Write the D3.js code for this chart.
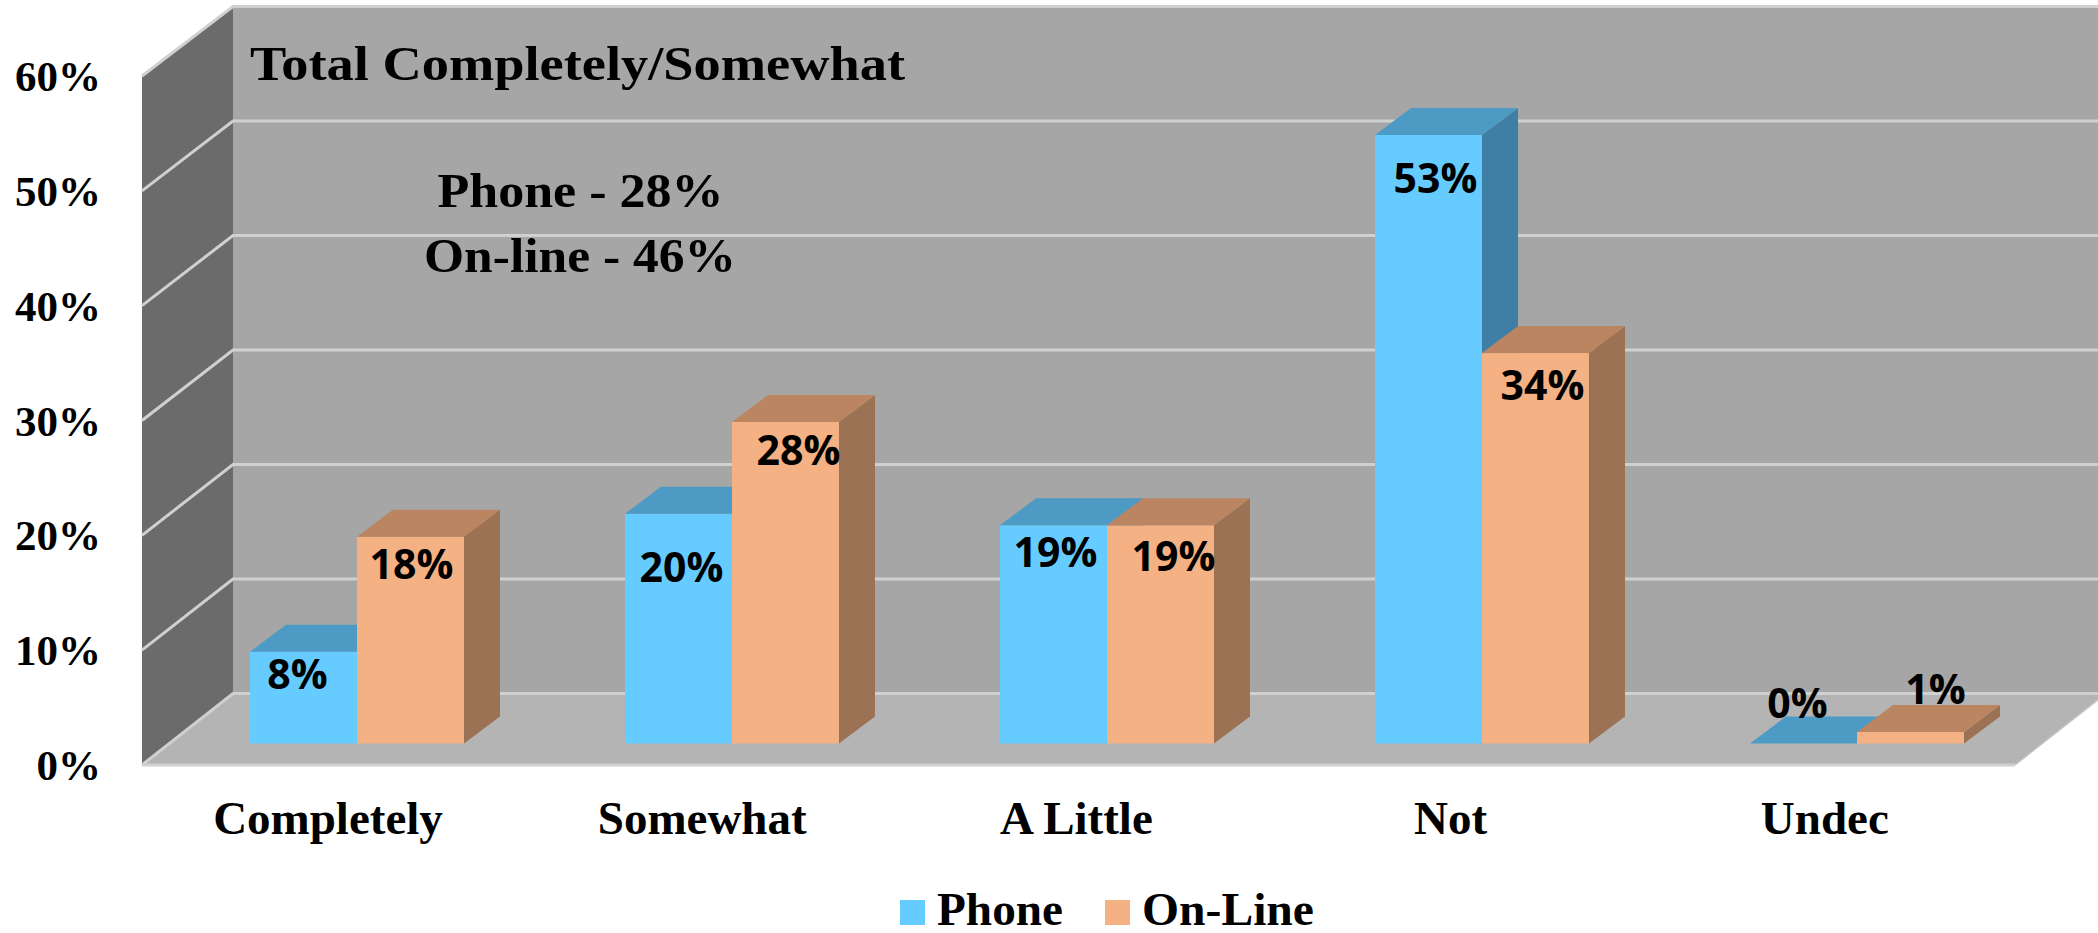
<!DOCTYPE html>
<html><head><meta charset="utf-8">
<script src="https://cdn.jsdelivr.net/npm/d3@7"></script>
<style>html,body{margin:0;padding:0;background:#fff;overflow:hidden}svg{display:block}
text{font-family:"Liberation Serif",serif;font-weight:700;fill:#000}
.dl{font-family:"Open Sans",sans-serif;font-weight:700;}</style>
</head><body><div id="c"></div>
<script>
const categories = ["Completely","Somewhat","A Little","Not","Undec"];
const seriesNames = ["Phone","On-Line"];
const phone = [8,20,19,53,0];
const online = [18,28,19,34,1];
const yTicks = [0,10,20,30,40,50,60];
const notes = ["Total Completely/Somewhat","Phone - 28%","On-line - 46%"];

const W=2098,H=933;
const svg=d3.select("#c").append("svg").attr("width",W).attr("height",H);
const y=d3.scaleLinear().domain([0,60]).range([765,76]);
const yBack=d3.scaleLinear().domain([0,60]).range([693.5,6.5]);
const x=d3.scaleBand().domain(categories).range([169.5,2044.5]).paddingInner(0).paddingOuter(0);
const DX=91, barW=107, bdx=36, bdy=-27, barLift=21.5;
const pts=a=>a.map(p=>p.join(",")).join(" ");
const colors={Phone:{f:"#66CCFF",t:"#4D9AC4",s:"#3F7FA6"},"On-Line":{f:"#F4B183",t:"#BA8560",s:"#9C7255"}};

// walls
const xL=142,xR=2015;
svg.append("polygon").attr("points",pts([[xL+DX,yBack(60)],[W+10,yBack(60)],[W+10,yBack(0)],[xL+DX,yBack(0)]])).attr("fill","#A6A6A6");
svg.append("polygon").attr("points",pts([[xL,y(60)],[xL+DX,yBack(60)],[xL+DX,yBack(0)],[xL,y(0)]])).attr("fill","#6B6B6B");
svg.append("polygon").attr("points",pts([[xL,y(0)],[xL+DX,yBack(0)],[xR+DX,yBack(0)],[xR,y(0)]])).attr("fill","#B4B4B4");
// gridlines
const gl="#D0D0D0";
svg.append("g").selectAll("polyline").data(yTicks).join("polyline")
  .attr("points",d=>pts([[xL,y(d)],[xL+DX,yBack(d)],[W+10,yBack(d)]]))
  .attr("fill","none").attr("stroke",gl).attr("stroke-width",3);
svg.append("line").attr("x1",xL).attr("x2",xR).attr("y1",y(0)).attr("y2",y(0)).attr("stroke",gl).attr("stroke-width",3);
svg.append("line").attr("x1",xR).attr("x2",xR+DX).attr("y1",y(0)).attr("y2",yBack(0)).attr("stroke","#C4C4C4").attr("stroke-width",1.5);

// y axis labels
svg.append("g").selectAll("text").data(yTicks).join("text")
  .attr("x",101).attr("y",d=>y(d)+15).attr("text-anchor","end").attr("font-size",43).text(d=>d+"%");
// category labels
svg.append("g").selectAll("text").data(categories).join("text")
  .attr("x",(d,i)=>x(d)+x.bandwidth()/2-29-i*0.8).attr("y",834).attr("text-anchor","middle").attr("font-size",47).text(d=>d);

// bars
const labelNudge={Phone:[[-6,37],[3,68],[2,42],[7,58],[-6,-26]],"On-Line":[[1,42],[13,43],[13,46],[7,47],[25,-28]]};
const rows=[];
categories.forEach((c,i)=>{
  rows.push({c,i,s:"Phone",v:phone[i],x0:x(c)+x.bandwidth()/2-barW});
  rows.push({c,i,s:"On-Line",v:online[i],x0:x(c)+x.bandwidth()/2});
});
const base=v=>y(v)-barLift;
const g=svg.append("g");
rows.forEach(d=>{
  const c=colors[d.s],x0=d.x0,x1=x0+barW,yb=base(0),yt=base(d.v);
  if(d.v>0){
    g.append("polygon").attr("points",pts([[x1,yb],[x1+bdx,yb+bdy],[x1+bdx,yt+bdy],[x1,yt]])).attr("fill",c.s);
    g.append("rect").attr("x",x0).attr("y",yt).attr("width",barW).attr("height",yb-yt).attr("fill",c.f);
  }
  g.append("polygon").attr("points",pts([[x0,yt],[x0+bdx,yt+bdy],[x1+bdx,yt+bdy],[x1,yt]])).attr("fill",c.t);
});
// data labels
svg.append("g").selectAll("text").data(rows).join("text").attr("class","dl")
  .attr("font-size",41).attr("text-anchor","middle")
  .attr("x",d=>d.x0+barW/2+labelNudge[d.s][d.i][0])
  .attr("y",d=>base(d.v)+labelNudge[d.s][d.i][1])
  .text(d=>d.v+"%");

// annotations
const noteBox=[[250,80,655],[437.5,207,286],[424,272,312]];
svg.append("g").selectAll("text").data(notes).join("text")
  .attr("x",(d,i)=>noteBox[i][0]).attr("y",(d,i)=>noteBox[i][1]).attr("font-size",48)
  .attr("textLength",(d,i)=>noteBox[i][2]).attr("lengthAdjust","spacingAndGlyphs").text(d=>d);

// legend
const legX=[900,1105], legW=[126,172];
const lg=svg.append("g").selectAll("g").data(seriesNames).join("g");
lg.append("rect").attr("x",(d,i)=>legX[i]).attr("y",900).attr("width",25).attr("height",25).attr("fill",d=>colors[d].f);
lg.append("text").attr("x",(d,i)=>legX[i]+37).attr("y",925).attr("font-size",47)
  .attr("textLength",(d,i)=>legW[i]).attr("lengthAdjust","spacingAndGlyphs").text(d=>d);
</script></body></html>
